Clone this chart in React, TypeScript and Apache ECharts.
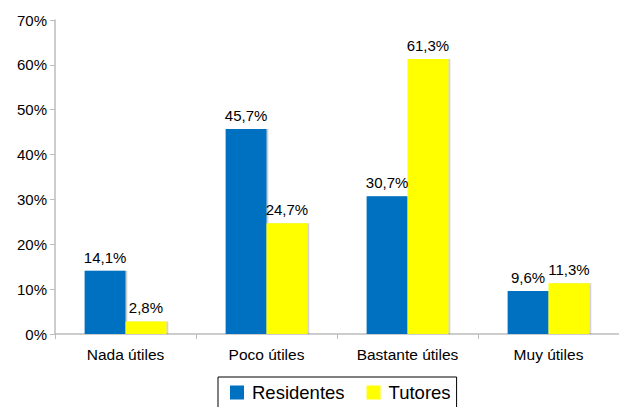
import React, { useEffect, useRef } from "react";
import * as echarts from "echarts";

const categories = ["Nada útiles", "Poco útiles", "Bastante útiles", "Muy útiles"];
const residentes = [14.1, 45.7, 30.7, 9.6];
const tutores = [2.8, 24.7, 61.3, 11.3];
const seriesNames = ["Residentes", "Tutores"];

export default function App() {
  const ref = useRef<HTMLDivElement>(null);
  useEffect(() => {
    if (!ref.current) return;
    const chart = echarts.init(ref.current, null, { renderer: "svg" });
    const font = "'Liberation Sans', Arial, Helvetica, sans-serif";
    const label = {
      show: true,
      position: "top" as const,
      distance: 6,
      color: "#000",
      fontSize: 15,
      fontFamily: font,
      formatter: (p: any) => p.value.toFixed(1).replace(".", ",") + "%",
    };
    chart.setOption({
      animation: false,
      textStyle: { fontFamily: font },
      grid: { left: 55, right: -4, top: 20, bottom: 73, containLabel: false },
      legend: {
        data: seriesNames,
        top: 377,
        left: 218,
        itemWidth: 14,
        itemHeight: 14,
        itemGap: 22,
        padding: [6, 6, 8, 12],
        borderColor: "#000",
        borderWidth: 1,
        icon: "rect",
        textStyle: { fontSize: 18.5, color: "#000", fontFamily: font, padding: [0, 0, 0, 3] },
      },
      xAxis: {
        type: "category",
        data: categories,
        axisLine: { lineStyle: { color: "#bdbdbd", width: 1.5 } },
        axisTick: { show: true, length: 5, lineStyle: { color: "#bdbdbd" } },
        axisLabel: { color: "#000", fontSize: 15.5, margin: 12, fontFamily: font },
      },
      yAxis: {
        type: "value",
        min: 0,
        max: 70,
        interval: 10,
        axisLine: { show: true, lineStyle: { color: "#bdbdbd", width: 1.5 } },
        axisTick: { show: true, length: 5, lineStyle: { color: "#bdbdbd" } },
        splitLine: { show: false },
        axisLabel: { color: "#000", fontSize: 15, margin: 8, formatter: "{value}%", fontFamily: font },
      },
      series: [
        {
          name: seriesNames[0],
          type: "bar",
          data: residentes,
          barGap: "0%",
          barCategoryGap: "42%",
          itemStyle: { color: "#0070C0", shadowColor: "rgba(0,0,0,0.25)", shadowOffsetX: 1.5, shadowBlur: 1 },
          label,
        },
        {
          name: seriesNames[1],
          type: "bar",
          data: tutores,
          itemStyle: { color: "#FFFF00", shadowColor: "rgba(0,0,0,0.25)", shadowOffsetX: 1.5, shadowBlur: 1 },
          label,
        },
      ],
    });
    return () => chart.dispose();
  }, []);
  return <div ref={ref} style={{ width: 619, height: 407, position: "absolute", left: 0, top: 0 }} />;
}
